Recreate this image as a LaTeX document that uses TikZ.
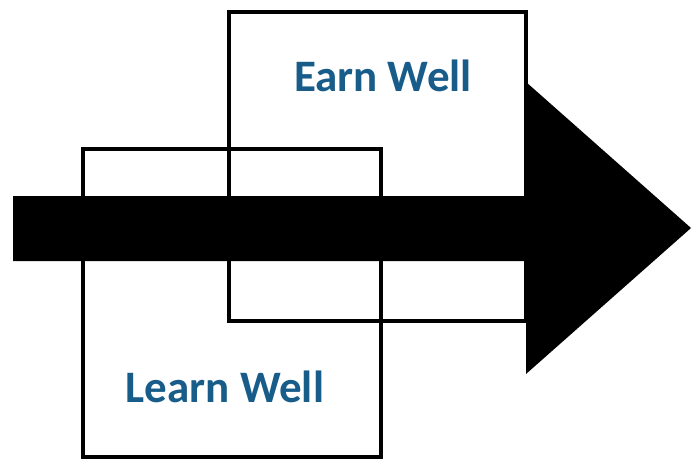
\documentclass[tikz,border=0pt]{standalone}
\usepackage{fontspec}
\setmainfont{Carlito}
\definecolor{wellblue}{RGB}{24,92,138}

\begin{document}
\begin{tikzpicture}[x=1pt, y=-1pt, every node/.style={rectangle, inner sep=0pt}, box/.style={draw=black, line width=3.2pt}, label/.style={font=\fontsize{45}{54}\selectfont\bfseries, text=wellblue}]
			\useasboundingbox (0,0) rectangle (693,460);
			\node[box, minimum width=297pt, minimum height=309pt] (earnbox) at (377.5,166.5){};
			\node[box, minimum width=298pt, minimum height=308pt] (learnbox) at (232,303){};
			
			\node[label] (earn) at (383,76){Earn Well};
			\node[label] (learn) at (225,387){Learn Well};
			
			\fill[black] (13,196) -- (526,196) -- (526,82) -- (691,228) -- (526,374) -- (526,261) -- (13,261) -- cycle;
			\end{tikzpicture}
\end{document}
